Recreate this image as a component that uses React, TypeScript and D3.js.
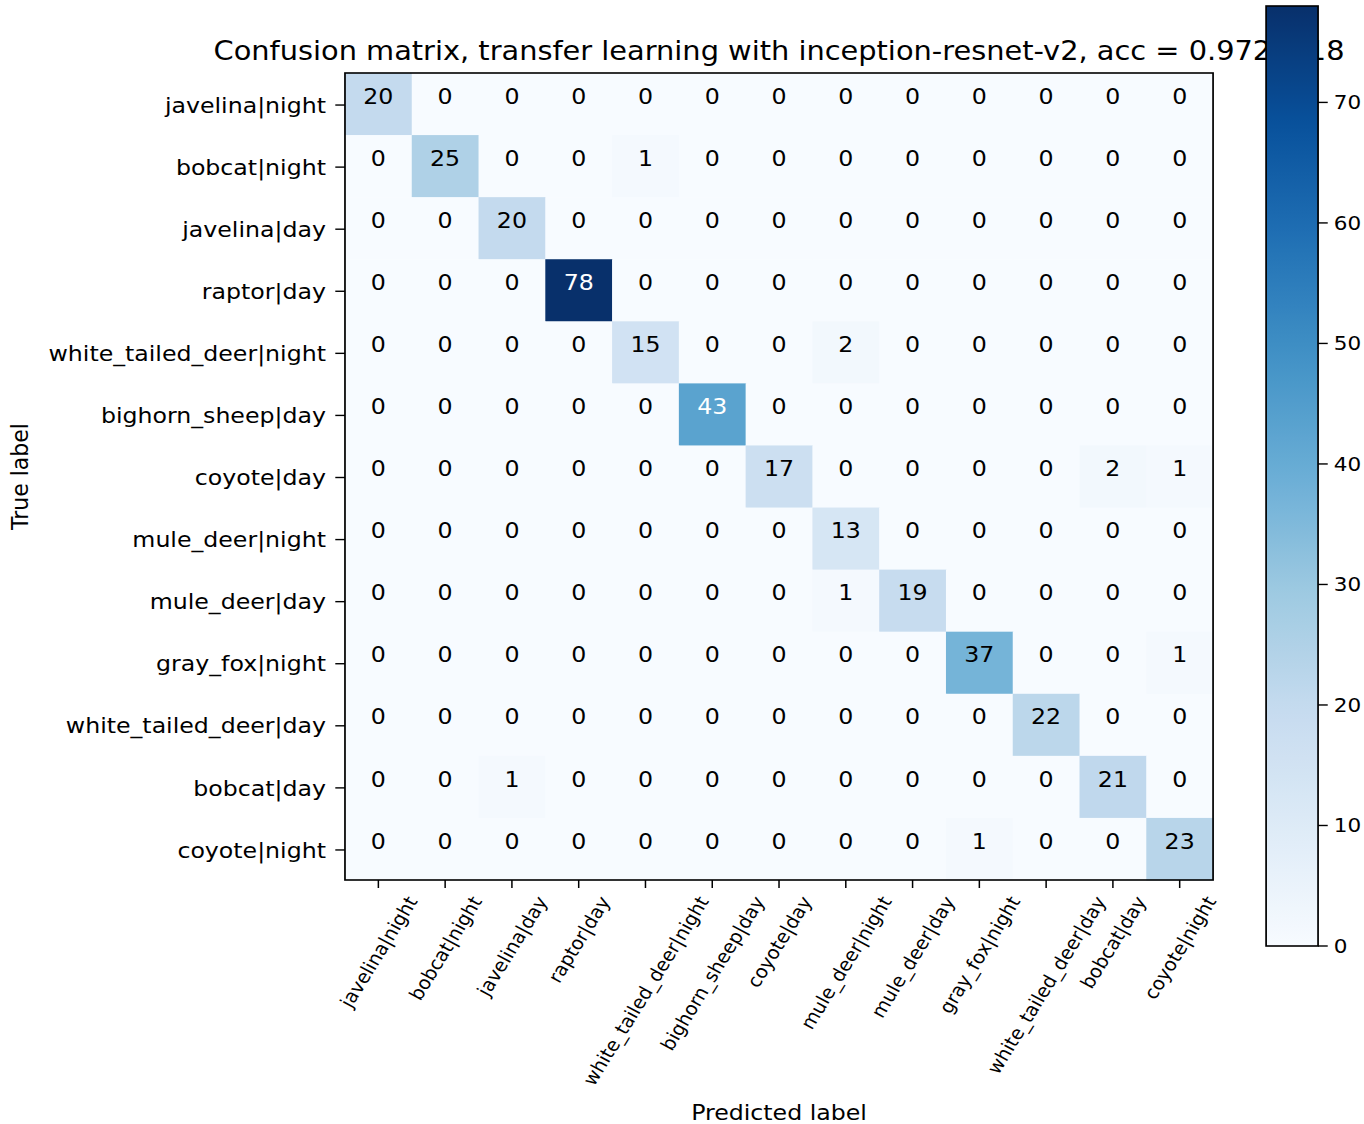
import React from 'react';
import * as d3 from 'd3';

const classes = [
  'javelina|night', 'bobcat|night', 'javelina|day', 'raptor|day',
  'white_tailed_deer|night', 'bighorn_sheep|day', 'coyote|day',
  'mule_deer|night', 'mule_deer|day', 'gray_fox|night',
  'white_tailed_deer|day', 'bobcat|day', 'coyote|night',
];

const matrix = [
  [20, 0, 0, 0, 0, 0, 0, 0, 0, 0, 0, 0, 0],
  [0, 25, 0, 0, 1, 0, 0, 0, 0, 0, 0, 0, 0],
  [0, 0, 20, 0, 0, 0, 0, 0, 0, 0, 0, 0, 0],
  [0, 0, 0, 78, 0, 0, 0, 0, 0, 0, 0, 0, 0],
  [0, 0, 0, 0, 15, 0, 0, 2, 0, 0, 0, 0, 0],
  [0, 0, 0, 0, 0, 43, 0, 0, 0, 0, 0, 0, 0],
  [0, 0, 0, 0, 0, 0, 17, 0, 0, 0, 0, 2, 1],
  [0, 0, 0, 0, 0, 0, 0, 13, 0, 0, 0, 0, 0],
  [0, 0, 0, 0, 0, 0, 0, 1, 19, 0, 0, 0, 0],
  [0, 0, 0, 0, 0, 0, 0, 0, 0, 37, 0, 0, 1],
  [0, 0, 0, 0, 0, 0, 0, 0, 0, 0, 22, 0, 0],
  [0, 0, 1, 0, 0, 0, 0, 0, 0, 0, 0, 21, 0],
  [0, 0, 0, 0, 0, 0, 0, 0, 0, 1, 0, 0, 23],
];

const colorbarTicks = [0, 10, 20, 30, 40, 50, 60, 70];
const bluesStops = ['#f7fbff', '#deebf7', '#c6dbef', '#9ecae1', '#6baed6', '#4292c6', '#2171b5', '#08519c', '#08306b'];
const titleText = 'Confusion matrix, transfer learning with inception-resnet-v2, acc = 0.9724518';
const xAxisLabel = 'Predicted label';
const yAxisLabel = 'True label';

const FONT = 'DejaVu Sans';

function measure(text: string, size: number): number {
  if (typeof document === 'undefined') return text.length * size * 0.58;
  const c = document.createElement('canvas');
  const ctx = c.getContext('2d');
  if (!ctx) return text.length * size * 0.58;
  ctx.font = `${size}px "${FONT}"`;
  return ctx.measureText(text).width;
}

export default function App() {
  const W = 1364;
  const H = 1124;
  const sx = 1.0757;

  const L = 320.7;
  const T = 73;
  const S = 807;
  const n = classes.length;

  const vmax = d3.max(matrix.flat()) as number;
  const interp = d3.piecewise(d3.interpolateRgb, bluesStops);
  const color = d3.scaleSequential(interp).domain([0, vmax]);

  const x = d3.scaleBand<number>().domain(d3.range(n)).range([L, L + S]);
  const y = d3.scaleBand<number>().domain(d3.range(n)).range([T, T + S]);
  const bw = x.bandwidth();
  const bh = y.bandwidth();
  const thresh = vmax / 2;

  const cbX = 1177;
  const cbW = 48.3;
  const cbTop = 6;
  const cbBot = 946;
  const cbScale = d3.scaleLinear().domain([0, vmax]).range([cbBot, cbTop]);
  const gradStops = d3.range(0, 1.0001, 0.02);

  const tickFont = 22;
  const xTickFont = 18.3;
  const cbFont = 20;
  const titleFont = 26.8;
  const sin60 = Math.sin(Math.PI / 3);
  const cos60 = Math.cos(Math.PI / 3);
  const xLabelTop = 893;

  return (
    <svg width={W} height={H} style={{ position: 'absolute', left: 0, top: 0, background: '#fff' }}
      fontFamily={FONT}>
      <defs>
        <linearGradient id="cbgrad" x1="0" y1="1" x2="0" y2="0">
          {gradStops.map((t, i) => (
            <stop key={i} offset={t} stopColor={color(t * vmax)} />
          ))}
        </linearGradient>
      </defs>
      <rect x={0} y={0} width={W} height={H} fill="#fff" />
      <g transform={`scale(${sx},1)`}>
        {/* title */}
        <text x={L + S / 2} y={60} textAnchor="middle" fontSize={titleFont} fill="#000">{titleText}</text>

        {/* cells */}
        {matrix.map((row, i) =>
          row.map((v, j) => (
            <rect key={`c${i}-${j}`} x={x(j)} y={y(i)} width={bw + 0.5} height={bh + 0.5} fill={color(v)} />
          ))
        )}
        {matrix.map((row, i) =>
          row.map((v, j) => (
            <text key={`t${i}-${j}`} x={(x(j) as number) + bw / 2} y={(y(i) as number) + bh / 2 - 8}
              textAnchor="middle" dominantBaseline="central" fontSize={tickFont}
              fill={v > thresh ? '#ffffff' : '#000000'}>{v}</text>
          ))
        )}
        <rect x={L} y={T} width={S} height={S} fill="none" stroke="#000" strokeWidth={1.6} />

        {/* y ticks */}
        {classes.map((c, i) => {
          const cy = (y(i) as number) + bh / 2 + 1;
          return (
            <g key={`y${i}`}>
              <line x1={L - 9} x2={L} y1={cy} y2={cy} stroke="#000" strokeWidth={1.4} />
              <text x={303} y={cy} textAnchor="end" dominantBaseline="central" fontSize={tickFont} fill="#000">{c}</text>
            </g>
          );
        })}

        {/* x ticks */}
        {classes.map((c, j) => {
          const cx = (x(j) as number) + bw / 2;
          const w = measure(c, xTickFont);
          const h = xTickFont * 1.05;
          const bboxH = w * sin60 + h * cos60;
          const cy = xLabelTop + bboxH / 2;
          return (
            <g key={`x${j}`}>
              <line x1={cx} x2={cx} y1={T + S} y2={T + S + 8} stroke="#000" strokeWidth={1.4} />
              <text x={cx} y={cy} textAnchor="middle" dominantBaseline="central" fontSize={xTickFont}
                fill="#000" transform={`rotate(-60,${cx},${cy})`}>{c}</text>
            </g>
          );
        })}

        {/* axis labels */}
        <text x={L + S / 2} y={1112} textAnchor="middle" dominantBaseline="central" fontSize={tickFont} fill="#000">{xAxisLabel}</text>
        <text x={18.6} y={T + S / 2} textAnchor="middle" dominantBaseline="central" fontSize={tickFont} fill="#000"
          transform={`rotate(-90,18.6,${T + S / 2})`}>{yAxisLabel}</text>

        {/* colorbar */}
        <rect x={cbX} y={cbTop} width={cbW} height={cbBot - cbTop} fill="url(#cbgrad)" stroke="#000" strokeWidth={1.6} />
        {colorbarTicks.map((t) => (
          <g key={`cb${t}`}>
            <line x1={cbX + cbW} x2={cbX + cbW + 9} y1={cbScale(t)} y2={cbScale(t)} stroke="#000" strokeWidth={1.4} />
            <text x={1240} y={cbScale(t)} dominantBaseline="central" fontSize={cbFont} fill="#000">{t}</text>
          </g>
        ))}
      </g>
    </svg>
  );
}
